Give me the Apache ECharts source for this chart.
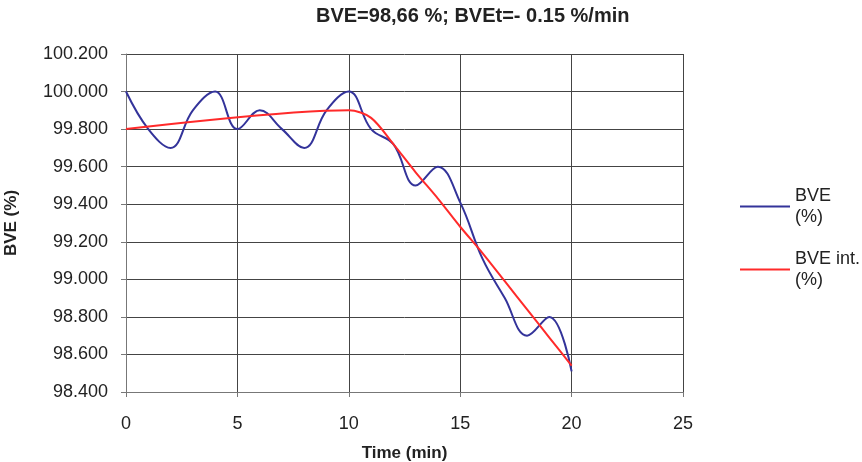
<!DOCTYPE html>
<html>
<head>
<meta charset="utf-8">
<script src="https://cdn.jsdelivr.net/npm/echarts@6/dist/echarts.min.js"></script>
<style>html,body{margin:0;padding:0;background:#fff}#c{width:862px;height:462px}</style>
</head>
<body>
<div id="c"></div>
<script>
var titleText = 'BVE=98,66 %; BVEt=- 0.15 %/min';
var xName = 'Time (min)';
var yName = 'BVE (%)';
var seriesNames = ['BVE (%)', 'BVE int. (%)'];
var bveTime = [0,1,2,3,4,5,6,7,8,9,10,11,12,13,14,15,16,17,18,19,20];
var bveValues = [100.0,99.8,99.7,99.9,100.0,99.8,99.9,99.8,99.7,99.9,100.0,99.8,99.72,99.5,99.6,99.41,99.11,98.9,98.7,98.8,98.51];
var intTime = [0,10,11,12,13,14,15,16,17,18,19,20];
var intValues = [99.8,99.9,99.86,99.72,99.57,99.43,99.28,99.14,98.99,98.84,98.69,98.54];

function pairs(xs, ys){ return xs.map(function(x,i){ return [x, ys[i]]; }); }

var chart = echarts.init(document.getElementById('c'), null, {renderer:'canvas'});
var font = 'Liberation Sans, Arial, sans-serif';
chart.setOption({
  animation:false,
  backgroundColor:'#fff',
  title:{text:titleText, left:316, top:6, padding:0, textStyle:{fontFamily:font, fontSize:20, fontWeight:'bold', color:'#222'}},
  grid:{left:126, right:179, top:54, bottom:70, containLabel:false, outerBoundsMode:'none'},
  legend:{
    orient:'vertical', left:740, top:175, padding:0, itemWidth:50, itemHeight:2, itemGap:0,
    icon:'rect',
    data:seriesNames,
    formatter:function(n){ return n.replace(' (%)','\n(%)'); },
    textStyle:{fontFamily:font, fontSize:18, color:'#222', lineHeight:21, padding:[21,0,0,0]}
  },
  xAxis:{
    type:'value', min:0, max:25, interval:5,
    name:xName, nameLocation:'middle', nameGap:53,
    nameTextStyle:{fontFamily:font, fontSize:17, fontWeight:'bold', color:'#222'},
    axisLine:{lineStyle:{color:'#777', width:1}},
    axisTick:{show:true, length:5, inside:false, lineStyle:{color:'#777'}},
    axisLabel:{fontFamily:font, fontSize:18, color:'#222', margin:23},
    splitLine:{show:true, lineStyle:{color:'#444', width:1}}
  },
  yAxis:{
    type:'value', min:98.4, max:100.2, interval:0.2,
    name:yName, nameLocation:'middle', nameGap:106, nameRotate:90,
    nameTextStyle:{fontFamily:font, fontSize:17, fontWeight:'bold', color:'#222'},
    axisLine:{show:true, lineStyle:{color:'#777', width:1}},
    axisTick:{show:true, length:5, lineStyle:{color:'#777'}},
    axisLabel:{fontFamily:font, fontSize:18, color:'#222', margin:18, formatter:function(v){ return v.toFixed(3); }},
    splitLine:{show:true, lineStyle:{color:'#444', width:1}}
  },
  series:[
    {name:seriesNames[0], type:'line', data:pairs(bveTime,bveValues), smooth:0.4, showSymbol:false, symbol:'none',
     lineStyle:{color:'#33339a', width:2}, itemStyle:{color:'#33339a'}},
    {name:seriesNames[1], type:'line', data:pairs(intTime,intValues), smooth:0.3, showSymbol:false, symbol:'none',
     lineStyle:{color:'#ff2a2a', width:2}, itemStyle:{color:'#ff2a2a'}}
  ]
});
</script>
</body>
</html>
